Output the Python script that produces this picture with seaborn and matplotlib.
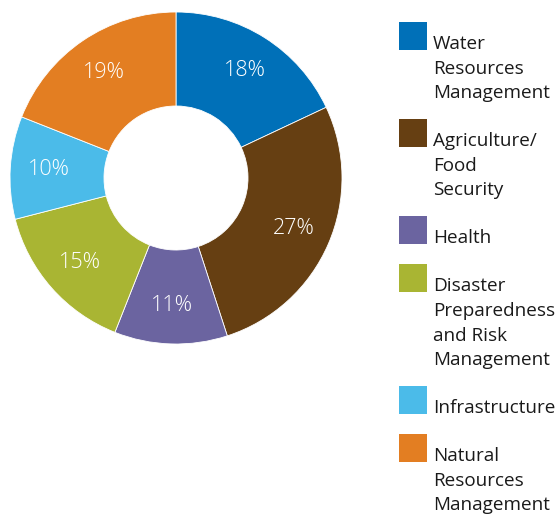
import matplotlib
matplotlib.use("Agg")
import matplotlib.pyplot as plt
from matplotlib.patches import Rectangle
import seaborn as sns

# Share of portfolio by sector
sectors = [
    "Water\nResources\nManagement",
    "Agriculture/\nFood\nSecurity",
    "Health",
    "Disaster\nPreparedness\nand Risk\nManagement",
    "Infrastructure",
    "Natural\nResources\nManagement",
]
shares = [18, 27, 11, 15, 10, 19]
colors = ["#0070B8", "#663F12", "#6B64A0", "#A9B533", "#4BBBE9", "#E37E22"]

sns.set_theme(style="white")
plt.rcParams["font.family"] = ["Open Sans", "DejaVu Sans"]

W, H = 559, 521
fig = plt.figure(figsize=(W / 100, H / 100), dpi=100)

# Donut chart
cx, cy, r = 176, 178, 166
ax = fig.add_axes([(cx - r) / W, (H - cy - r) / H, 2 * r / W, 2 * r / H])
wedges, _, autotexts = ax.pie(
    shares,
    colors=colors,
    startangle=90,
    counterclock=False,
    autopct=lambda p: f"{p:.0f}%",
    pctdistance=0.77,
    wedgeprops=dict(width=1 - 72 / 166, edgecolor="white", linewidth=0.6),
    textprops=dict(color="white", fontsize=15.5, fontweight="light"),
)
ax.set_xlim(-1, 1)
ax.set_ylim(-1, 1)
ax.set_aspect("equal")
ax.axis("off")

# Legend: colour square with stacked label lines
line_h = 24.6
top = 22
for label, color in zip(sectors, colors):
    fig.patches.append(
        Rectangle((399 / W, 1 - (top + 28) / H), 28 / W, 28 / H,
                  transform=fig.transFigure, facecolor=color, edgecolor="none")
    )
    lines = label.split("\n")
    for i, line in enumerate(lines):
        yc = top + 22 + i * line_h
        fig.text(433 / W, 1 - yc / H, line, ha="left", va="center",
                 fontsize=13.6, color="#1a1a1a")
    top = top + 22 + (len(lines) - 1) * line_h + 26

fig.savefig("out.png", dpi=100, facecolor="white")
